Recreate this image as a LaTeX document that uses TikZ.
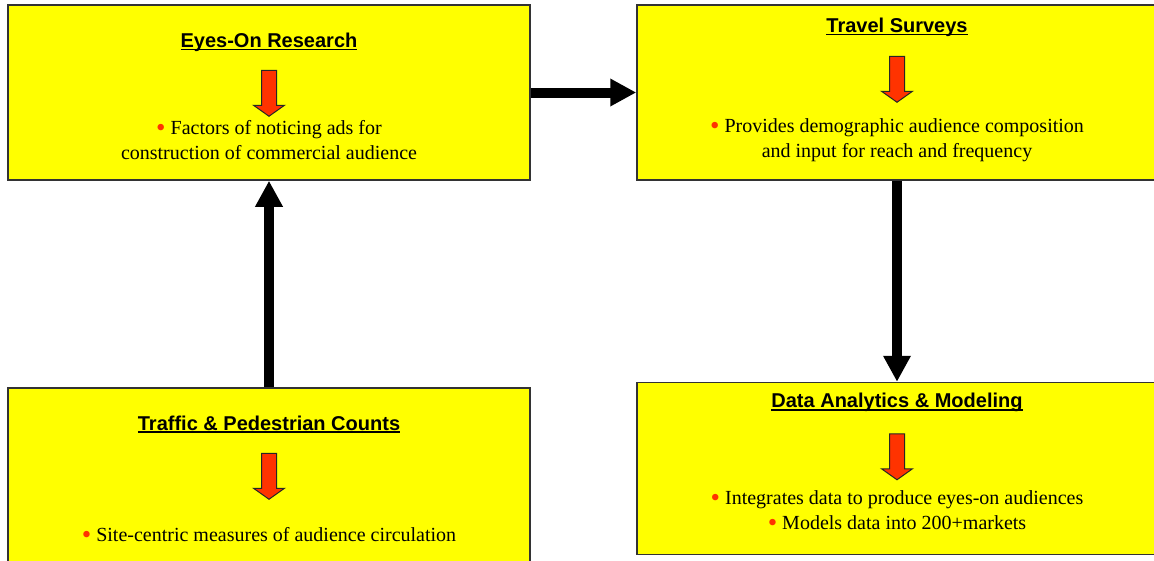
\documentclass[tikz,border=0pt]{standalone}
\usepackage{fontspec}
\setmainfont{Liberation Serif}
\setsansfont{Liberation Sans}
\usepackage{tikz}
\usetikzlibrary{arrows.meta,positioning}
\definecolor{boxyellow}{RGB}{255,255,0}
\definecolor{arrowred}{RGB}{255,51,0}
\newcommand{\redbullet}{\textcolor{arrowred}{\raisebox{-2pt}{\scalebox{1.35}{\textbullet}}}\ }
\newcommand{\titleline}[1]{\begingroup\setbox0\hbox{#1}\rlap{\rule[-3pt]{\wd0}{1.6pt}}\box0\endgroup}
\tikzset{
    stage/.style={draw=black!80, line width=1.5pt, fill=boxyellow, minimum height=175pt, inner sep=0pt},
    heading/.style={font=\sffamily\bfseries\fontsize{20}{24}\selectfont},
    bullets/.style={font=\fontsize{20}{25}\selectfont, align=center},
    flow/.style={line width=10pt, -{Triangle[width=26pt,length=26pt]}},
    downarrow/.pic={\draw[fill=arrowred, draw=black!85, line width=1pt]
        (-7.5,0) -- (7.5,0) -- (7.5,35) -- (15.5,35) -- (0,46) -- (-15.5,35) -- (-7.5,35) -- cycle;}
}

\begin{document}
\begin{tikzpicture}[x=1pt,y=-1pt,node distance=100pt,on grid]
            \useasboundingbox (0,0) rectangle (1154,560);

            \node[stage, minimum width=522pt]    (eyes) at (269,92.5) {};
            \node[stage, minimum width=520pt]    (travel) [right=628pt of eyes] {};
            \node[stage, minimum width=522pt]    (counts) [below=383pt of eyes] {};
            \node[stage, minimum width=520pt, minimum height=172pt]    (analytics) [below=376pt of travel] {};

            \node[heading]    (eyes_t) at ([yshift=-38pt]eyes.north) {\titleline{Eyes-On Research}};
            \node[heading]    (travel_t) at ([yshift=-23pt]travel.north) {\titleline{Travel Surveys}};
            \node[heading]    (counts_t) at ([yshift=-37pt]counts.north) {\titleline{Traffic \& Pedestrian Counts}};
            \node[heading]    (analytics_t) at ([yshift=-21pt]analytics.north) {\titleline{Data Analytics \& Modeling}};

            \pic at ([yshift=-66pt]eyes.north) {downarrow};
            \pic at ([yshift=-52pt]travel.north) {downarrow};
            \pic at ([yshift=-66pt]counts.north) {downarrow};
            \pic at ([yshift=-52pt]analytics.north) {downarrow};

            \node[bullets]    (eyes_b) at ([yshift=-136pt]eyes.north) {\redbullet Factors of noticing ads for\\construction of commercial audience};
            \node[bullets]    (travel_b) at ([yshift=-136pt]travel.north) {\redbullet Provides demographic audience composition\\and input for reach and frequency};
            \node[bullets]    (counts_b) at ([yshift=-148pt]counts.north) {\redbullet Site-centric measures of audience circulation};
            \node[bullets]    (analytics_b) at ([yshift=-129pt]analytics.north) {\redbullet Integrates data to produce eyes-on audiences\\\redbullet Models data into 200+markets};

            \draw[flow] (eyes) -- (travel);
            \draw[flow] (travel) -- (analytics);
            \draw[flow] (counts) -- (eyes);
\end{tikzpicture}
\end{document}
